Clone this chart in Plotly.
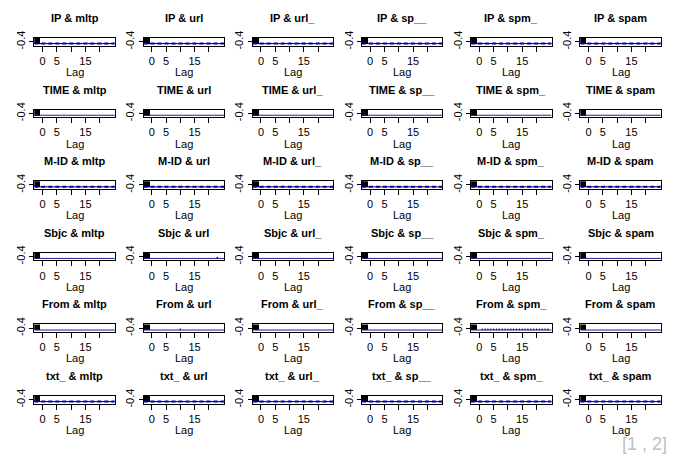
import plotly.graph_objects as go
from plotly.subplots import make_subplots

# ---- data ----
row_names = ["IP", "TIME", "M-ID", "Sbjc", "From", "txt_"]
col_names = ["mltp", "url", "url_", "sp__", "spm_", "spam"]
lag_ticks = [0, 5, 10, 15, 20]
lag_tick_labels = ["0", "5", "", "15", ""]
lags = list(range(0, 25))
y_tick = [-0.4]
y_tick_label = ["-0.4"]
ci_level = -0.5
block_lag = [-1.8]
block_height = [0.6]
block_base = -0.5
# dashed CI visible in these rows, thin solid elsewhere
dashed_rows = ["IP", "M-ID", "txt_"]
# small cross-correlation dots visible in a few panels
dot_panels = {
    ("From", "spm_"): (lags[1:], [-0.46] * 24),
    ("From", "url"): ([10], [-0.46]),
    ("Sbjc", "url"): ([23], [-0.46]),
}
x_range = [-2.9, 25.3]
y_range = [-0.6, -0.2]

W, H = 683, 455
fig = make_subplots(rows=6, cols=6)

box_left0, col_step, box_w = 34.3, 109.2, 80.5
box_top0, row_step, box_h = 38.0, 71.6, 7.5

font = dict(family="Liberation Sans, Arial", size=11, color="black")
annotations = []
for r, rn in enumerate(row_names):
    for c, cn in enumerate(col_names):
        idx = r * 6 + c + 1
        xl = box_left0 + c * col_step
        yt = box_top0 + r * row_step
        xd = [xl / W, (xl + box_w) / W]
        yd = [1 - (yt + box_h) / H, 1 - yt / H]
        xa = "xaxis" if idx == 1 else f"xaxis{idx}"
        ya = "yaxis" if idx == 1 else f"yaxis{idx}"
        fig.layout[xa].update(
            domain=xd, range=x_range, tickvals=lag_ticks, ticktext=lag_tick_labels,
            ticks="outside", ticklen=5, tickcolor="black", tickwidth=1,
            showline=True, mirror=True, linecolor="black", linewidth=1,
            showgrid=False, zeroline=False, automargin=False, fixedrange=True,
            tickfont=font,
        )
        fig.layout[ya].update(
            domain=yd, range=y_range, tickvals=y_tick, ticktext=y_tick_label,
            tickangle=-90, ticks="outside", ticklen=4, tickcolor="black",
            showline=True, mirror=True, linecolor="black", linewidth=1,
            showgrid=False, zeroline=False, automargin=False, fixedrange=True,
            tickfont=font,
        )
        # black block
        fig.add_trace(go.Bar(x=block_lag, y=block_height, base=block_base, width=2.0,
                             marker=dict(color="black", line=dict(width=0)),
                             showlegend=False, hoverinfo="skip"), row=r + 1, col=c + 1)
        # zero / ci line
        if rn in dashed_rows:
            fig.add_trace(go.Scatter(x=x_range, y=[ci_level, ci_level], mode="lines",
                                     line=dict(color="black", width=1),
                                     showlegend=False, hoverinfo="skip"), row=r + 1, col=c + 1)
            fig.add_trace(go.Scatter(x=x_range, y=[ci_level, ci_level], mode="lines",
                                     line=dict(color="#0000cc", width=2, dash="4px,3px"),
                                     showlegend=False, hoverinfo="skip"), row=r + 1, col=c + 1)
        else:
            fig.add_trace(go.Scatter(x=x_range, y=[ci_level, ci_level], mode="lines",
                                     line=dict(color="#202090", width=1),
                                     showlegend=False, hoverinfo="skip"), row=r + 1, col=c + 1)
        if (rn, cn) in dot_panels:
            dx, dy = dot_panels[(rn, cn)]
            fig.add_trace(go.Scatter(x=dx, y=dy, mode="markers",
                                     marker=dict(color="black", size=1.6),
                                     showlegend=False, hoverinfo="skip"), row=r + 1, col=c + 1)
        cx = (xl + box_w / 2) / W
        annotations.append(dict(
            text=f"<b>{rn} & {cn}</b>", x=cx, y=1 - (yt - 20) / H, xref="paper", yref="paper",
            showarrow=False, xanchor="center", yanchor="middle", font=font))
        annotations.append(dict(
            text="Lag", x=cx, y=1 - (yt + 34) / H, xref="paper", yref="paper",
            showarrow=False, xanchor="center", yanchor="middle", font=font))

annotations.append(dict(
    text="[1 , 2]", x=669 / W, y=1 - 444 / H, xref="paper", yref="paper",
    showarrow=False, xanchor="right", yanchor="middle",
    font=dict(family="Liberation Sans, Arial", size=18, color="#c0c0c0")))

fig.update_layout(
    width=W, height=H, margin=dict(l=0, r=0, t=0, b=0, autoexpand=False),
    paper_bgcolor="white", plot_bgcolor="white",
    annotations=annotations, showlegend=False, bargap=0,
)
fig.write_html(
    "out.html",
    config={"displayModeBar": False},
    post_script="document.body.style.margin='0';document.body.style.overflow='hidden';",
)
